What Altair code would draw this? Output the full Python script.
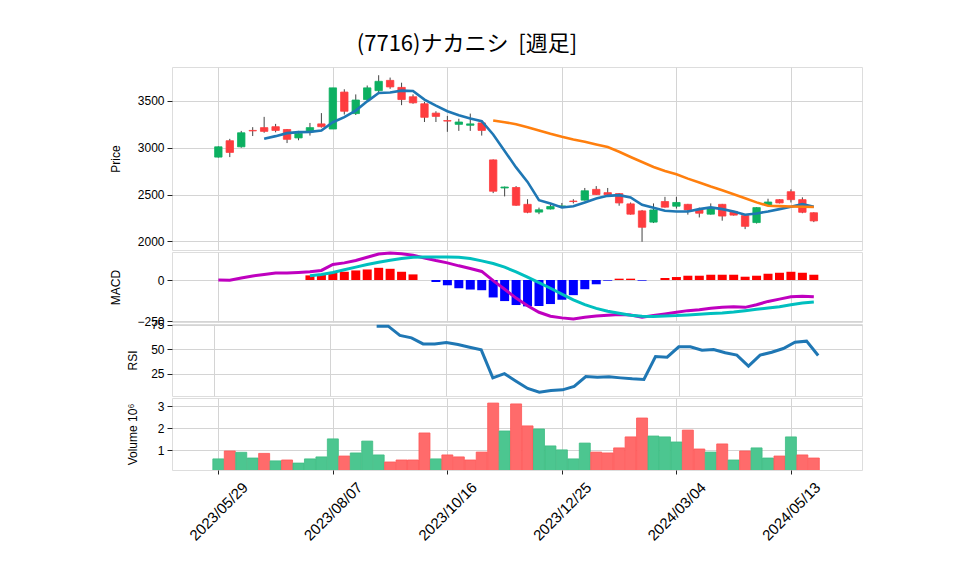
import altair as alt
import pandas as pd

# ---------------- data ----------------
N = 53
opens = [2900, 3075, 3010, 3185, 3215, 3225, 3195, 3105, 3170, 3255,
         3200, 3595, 3365, 3515, 3610, 3720, 3645, 3545, 3470, 3370,
         3290, 3250, 3240, 3265, 2870, 2570, 2575, 2395, 2312, 2345,
         2372, 2430, 2440, 2555, 2520, 2510, 2400, 2325, 2205, 2425,
         2375, 2395, 2335, 2290, 2395, 2320, 2275, 2200, 2385, 2445,
         2530, 2445, 2305]
highs = [3015, 3095, 3180, 3220, 3330, 3255, 3200, 3180, 3265, 3370,
         3640, 3625, 3570, 3665, 3775, 3750, 3695, 3570, 3490, 3390,
         3340, 3310, 3365, 3290, 2875, 2585, 2590, 2450, 2360, 2395,
         2410, 2450, 2570, 2590, 2570, 2515, 2415, 2335, 2405, 2475,
         2475, 2400, 2360, 2405, 2400, 2325, 2280, 2365, 2455, 2450,
         2555, 2470, 2310]
lows = [2895, 2900, 3000, 3125, 3160, 3165, 3050, 3080, 3130, 3215,
        3200, 3355, 3350, 3505, 3595, 3630, 3455, 3470, 3275, 3275,
        3170, 3180, 3180, 3130, 2515, 2480, 2380, 2300, 2290, 2340,
        2365, 2405, 2435, 2495, 2490, 2380, 2285, 1995, 2195, 2360,
        2350, 2285, 2255, 2285, 2220, 2275, 2130, 2190, 2380, 2405,
        2415, 2300, 2205]
closes = [3010, 2950, 3160, 3180, 3175, 3185, 3090, 3155, 3215, 3225,
          3640, 3390, 3510, 3640, 3710, 3650, 3515, 3480, 3325, 3335,
          3285, 3275, 3255, 3185, 2535, 2580, 2385, 2310, 2337, 2372,
          2378, 2425, 2540, 2500, 2497, 2410, 2290, 2150, 2335, 2365,
          2415, 2335, 2300, 2360, 2270, 2280, 2160, 2360, 2420, 2410,
          2445, 2310, 2218]
volume_m = [0.61, 0.97, 0.91, 0.65, 0.86, 0.52, 0.56, 0.42, 0.61, 0.70,
            1.52, 0.74, 0.88, 1.42, 0.79, 0.47, 0.56, 0.56, 1.79, 0.61,
            0.79, 0.70, 0.56, 0.92, 3.15, 1.88, 3.11, 2.11, 1.97, 1.20,
            1.02, 0.61, 1.33, 0.92, 0.88, 1.11, 1.61, 2.47, 1.65, 1.61,
            1.38, 1.92, 1.06, 0.92, 1.29, 0.56, 0.97, 1.11, 0.65, 0.74,
            1.61, 0.79, 0.65]
vol_up = [1, 0, 1, 1, 0, 1, 0, 1, 1, 1,
          1, 0, 1, 1, 1, 0, 0, 0, 0, 1,
          0, 0, 0, 0, 0, 1, 0, 0, 1, 1,
          1, 1, 1, 0, 0, 0, 0, 0, 1, 1,
          1, 0, 0, 1, 0, 1, 0, 1, 1, 0,
          1, 0, 0]
ma5_start = 4
ma5 = [3096, 3124, 3156, 3167, 3170, 3184,
       3273, 3327, 3397, 3496, 3585, 3590, 3610, 3606, 3514, 3450,
       3390, 3347, 3312, 3284, 3142, 2965, 2790, 2635, 2440, 2404,
       2362, 2375, 2415, 2457, 2486, 2493, 2468, 2390, 2358, 2326,
       2319, 2319, 2344, 2362, 2344, 2319, 2284, 2298, 2319, 2344,
       2369, 2397, 2369]
ma25_start = 24
ma25 = [3291, 3273, 3252, 3220, 3184, 3149, 3117, 3088, 3064, 3035,
        3007, 2957, 2901, 2848, 2795, 2752, 2716, 2670, 2628, 2585,
        2546, 2503, 2461, 2416, 2380, 2376, 2372, 2370, 2366]
macd = [0, -2, 12, 24, 34, 42, 42, 46, 50, 58,
        94, 104, 118, 138, 158, 164, 160, 150, 134, 118,
        104, 86, 70, 52, -4, -56, -110, -156, -196, -220,
        -230, -236, -226, -218, -214, -210, -212, -226, -216, -206,
        -196, -186, -180, -172, -166, -162, -166, -150, -130, -116,
        -102, -98, -102]
sig_start = 8
signal = [26, 34, 46, 62, 78, 94, 108, 120, 130, 138,
          140, 140, 140, 138, 130, 116, 100, 78, 50, 18,
          -16, -50, -86, -120, -150, -172, -190, -202, -214, -220,
          -222, -218, -216, -212, -208, -204, -200, -194, -186, -178,
          -170, -162, -150, -140, -134]
hist = [28, 34, 44, 50, 58, 64, 74, 68, 50, 34,
        0, -12, -32, -50, -58, -62, -106, -128, -152, -160,
        -158, -146, -120, -92, -56, -26, -4, 8, 8, -4,
        0, 12, 18, 26, 26, 32, 32, 32, 20, 26,
        38, 44, 50, 44, 32]
rsi_start = 14
rsi = [73.5, 73.5, 64, 61.6, 55.4, 55.4, 56.8, 54.8, 52, 49.3,
       20.7, 25, 17.3, 9.9, 6.1, 7.8, 8.5, 11.9, 22.1, 21.4,
       21.8, 20.7, 19.7, 19, 42.5, 41.8, 52.4, 52.4, 49, 49.7,
       46.3, 43.9, 32.7, 43.9, 46.9, 50.7, 57.1, 58.2, 43.5]
tick_idx = [0, 10, 20, 30, 40, 50]
tick_labels = ["2023/05/29", "2023/08/07", "2023/10/16",
               "2023/12/25", "2024/03/04", "2024/05/13"]
title_text = "(7716)ナカニシ\u00a0 [週足]"

# ---------------- tables ----------------
idx = list(range(N))
df = pd.DataFrame({"i": idx, "open": opens, "high": highs, "low": lows,
                   "close": closes, "vol": volume_m, "up": vol_up, "macd": macd})
ma5_df = pd.DataFrame({"i": idx[ma5_start:], "v": ma5})
ma25_df = pd.DataFrame({"i": idx[ma25_start:], "v": ma25})
sig_df = pd.DataFrame({"i": idx[sig_start:], "sig": signal, "h": hist})
rsi_df = pd.DataFrame({"i": idx[rsi_start:], "v": rsi})

# ---------------- styling ----------------
FONT = "DejaVu Sans"
GREEN, RED = "#0cb061", "#fe3c3f"
VGREEN, VRED = "#4cc690", "#ff6b6b"
W = 690
X_DOM = [-3.61, 55.77]
xs = alt.Scale(domain=X_DOM, nice=False, zero=False)
GRID = "#d4d4d4"

hidden_x = alt.Axis(values=tick_idx, labels=False, ticks=False, domain=False,
                    title=None, grid=True, gridColor=GRID)

label_expr = " : ".join(
    [f"datum.value == {v} ? '{t}'" for v, t in zip(tick_idx, tick_labels)]) + " : ''"
bottom_x = alt.Axis(values=tick_idx, labelExpr=label_expr, labelAngle=-45,
                    labelAlign="center", labelBaseline="middle", labelPadding=37,
                    labelFontSize=15, labelOverlap=False, labelFlush=False,
                    tickSize=4, tickColor="#222", domain=False, title=None,
                    grid=True, gridColor=GRID)


def yaxis(title, values, tx):
    return alt.Axis(title=title, values=values, format="d", grid=True, gridColor=GRID,
                    domain=False, tickSize=5, tickColor="#222",
                    labelFontSize=12, titleFontSize=12, titleFontWeight="normal",
                    titleX=tx, titleBaseline="middle", labelPadding=3)


# ---- price panel ----
xm = alt.X("i:Q", scale=xs, axis=hidden_x)
yprice = alt.Scale(domain=[1907, 3863], nice=False, zero=False)
wick = alt.Chart(df).mark_rule(color="#444444", strokeWidth=1).encode(
    x=xm,
    y=alt.Y("low:Q", scale=yprice, axis=yaxis("Price", [2000, 2500, 3000, 3500], -57)),
    y2="high:Q")
body = alt.Chart(df).mark_bar(width=7.4, strokeWidth=0.8).encode(
    x=xm, y=alt.Y("open:Q", scale=yprice), y2="close:Q",
    color=alt.condition("datum.close >= datum.open", alt.value(GREEN), alt.value(RED)),
    stroke=alt.condition("datum.close >= datum.open", alt.value(GREEN), alt.value(RED)))
l5 = alt.Chart(ma5_df).mark_line(color="#1f77b4", strokeWidth=2.6).encode(
    x=xm, y=alt.Y("v:Q", scale=yprice))
l25 = alt.Chart(ma25_df).mark_line(color="#ff7f0e", strokeWidth=2.6).encode(
    x=xm, y=alt.Y("v:Q", scale=yprice))
price = alt.layer(wick, body, l5, l25).properties(width=W, height=183)

# ---- MACD panel ----
ymacd = alt.Scale(domain=[-255, 170], nice=False, zero=False)
hbar = alt.Chart(sig_df).mark_bar(width=9).encode(
    x=xm,
    y=alt.Y("h:Q", scale=ymacd, axis=yaxis("MACD", [-250, 0], -57)),
    color=alt.condition("datum.h >= 0", alt.value("#ff0000"), alt.value("#0000ff")))
mline = alt.Chart(df).mark_line(color="#bf00bf", strokeWidth=3).encode(
    x=xm, y=alt.Y("macd:Q", scale=ymacd))
sline = alt.Chart(sig_df).mark_line(color="#00bfbf", strokeWidth=3).encode(
    x=xm, y=alt.Y("sig:Q", scale=ymacd))
macd_panel = alt.layer(hbar, mline, sline).properties(width=W, height=70)

# ---- RSI panel ----
rsi_panel = alt.Chart(rsi_df).mark_line(color="#1f77b4", strokeWidth=3).encode(
    x=xm,
    y=alt.Y("v:Q", scale=alt.Scale(domain=[2.2, 75.7], nice=False, zero=False),
            axis=yaxis("RSI", [25, 50, 75], -40))
).properties(width=W, height=72)

# ---- Volume panel ----
vol_panel = alt.Chart(df).mark_bar(width=11, strokeWidth=0.8, clip=True).encode(
    x=alt.X("i:Q", scale=xs, axis=bottom_x),
    y=alt.Y("vol:Q", scale=alt.Scale(domain=[0.105, 3.38], nice=False, zero=False),
            axis=yaxis("Volume  10⁶", [1, 2, 3], -40)),
    color=alt.condition("datum.up == 1", alt.value(VGREEN), alt.value(VRED)),
    stroke=alt.condition("datum.up == 1", alt.value("#3dbd83"), alt.value("#ff5757")),
).properties(width=W, height=72)

chart = alt.vconcat(price, macd_panel, rsi_panel, vol_panel, spacing=2,
                    bounds="flush").properties(
    title=alt.TitleParams(title_text, font="Noto Sans CJK JP", fontSize=22,
                          fontWeight="normal", color="#000", anchor="middle",
                          frame="group", dx=-50, offset=11),
    padding={"left": 100, "top": 24, "right": 5, "bottom": 5},
).configure_view(fill="#f8f8f8", stroke="#ececec").configure_axis(
    labelFont=FONT, titleFont=FONT, labelColor="#111", titleColor="#111"
).configure(background="white")

chart.save("out.html", embed_options={"renderer": "svg", "actions": False})
